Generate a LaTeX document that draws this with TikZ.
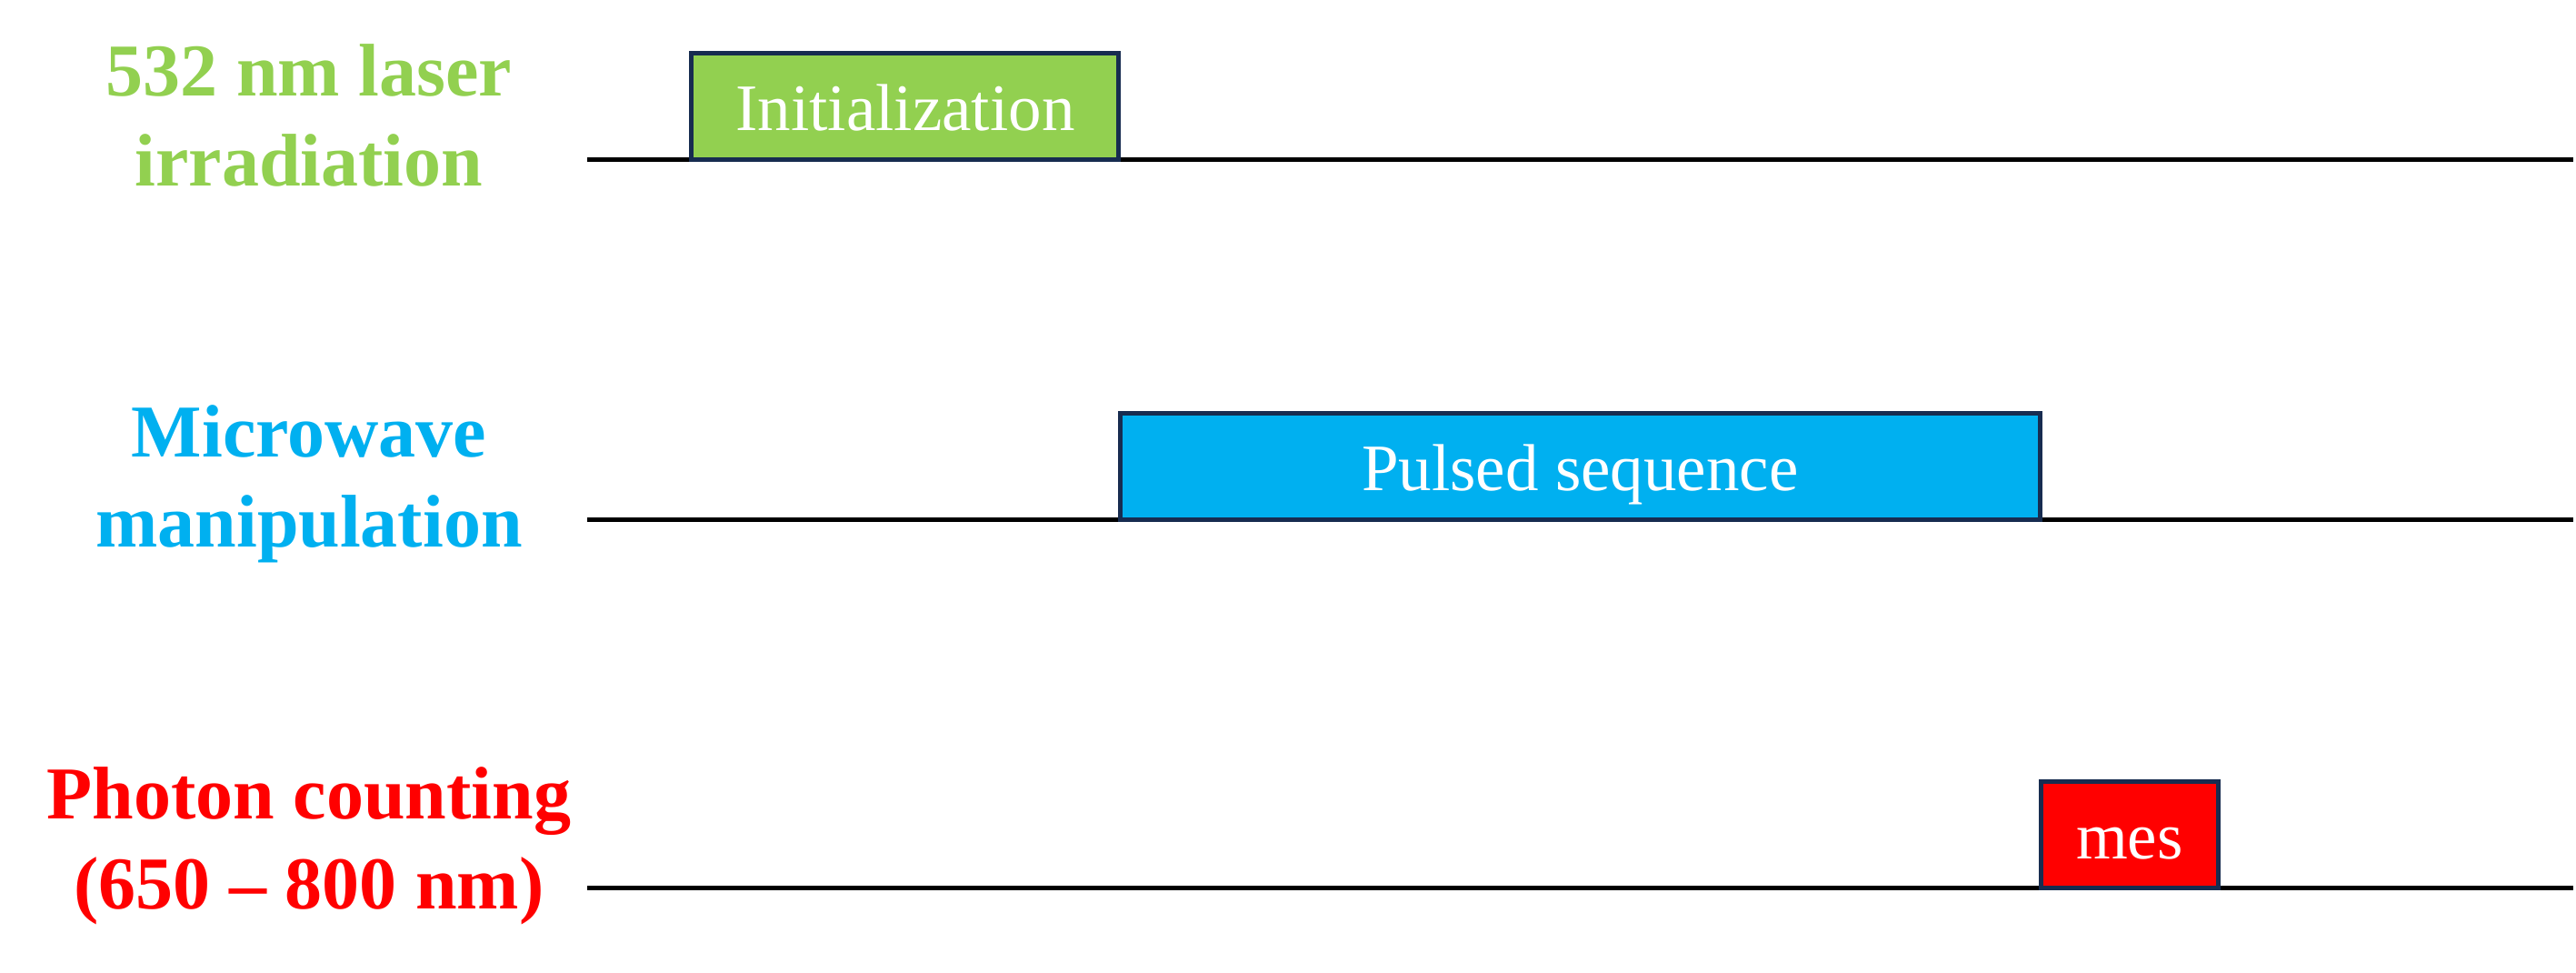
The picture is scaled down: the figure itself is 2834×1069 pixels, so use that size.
\documentclass[tikz,border=0pt]{standalone}
\usepackage{fontspec}
\setmainfont{Liberation Serif}
\definecolor{lgreen}{HTML}{92D050}
\definecolor{lblue}{HTML}{00B0F0}
\definecolor{lred}{HTML}{FF0000}
\definecolor{navy}{HTML}{172C50}
\tikzset{
  timeline/.style={line width=5pt, black},
  pulsebox/.style={draw=navy, line width=5pt, inner sep=0pt, text=white,
    font=\fontsize{73}{88}\selectfont, text height=53pt, text depth=0pt},
  chanlabel/.style={anchor=base, inner sep=0pt,
    font=\fontsize{82}{99}\selectfont\bfseries}
}
\begin{document}
\begin{tikzpicture}[x=1pt,y=-1pt]
\useasboundingbox (0,0) rectangle (2834,1069);
% timelines
\coordinate (l1s) at (646,175.5); \coordinate (l1e) at (2831,175.5);
\coordinate (l2s) at (646,571.5); \coordinate (l2e) at (2831,571.5);
\coordinate (l3s) at (646,976.5); \coordinate (l3e) at (2831,976.5);
\draw[timeline] (l1s) -- (l1e);
\draw[timeline] (l2s) -- (l2e);
\draw[timeline] (l3s) -- (l3e);
% pulses
\node[pulsebox, fill=lgreen, minimum width=470pt, minimum height=117pt] (init) at (995.9,117) {Initialization};
\node[pulsebox, fill=lblue, minimum width=1012.5pt, minimum height=116.7pt] (puls) at (1738.3,513) {Pulsed sequence};
\node[pulsebox, fill=lred, minimum width=194.5pt, minimum height=117.2pt] (mes) at (2342.8,917.9) {mes};
% channel labels
\node[chanlabel, text=lgreen] (lab1) at (340,105) {\begin{tabular}[t]{@{}c@{}}532 nm laser\\irradiation\end{tabular}};
\node[chanlabel, text=lblue] (lab2) at (340,502) {\begin{tabular}[t]{@{}c@{}}Microwave\\manipulation\end{tabular}};
\node[chanlabel, text=lred] (lab3) at (340,900) {\begin{tabular}[t]{@{}c@{}}Photon counting\\(650 – 800 nm)\end{tabular}};
\end{tikzpicture}
\end{document}
